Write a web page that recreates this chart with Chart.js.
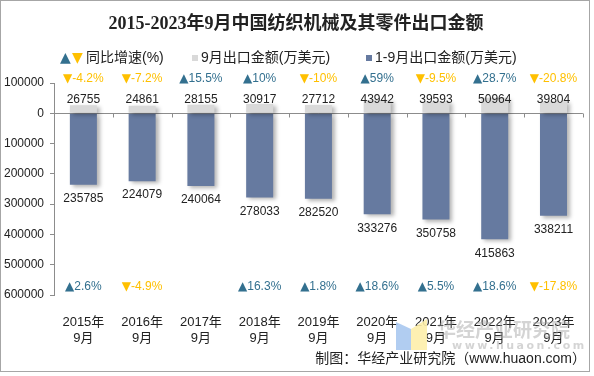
<!DOCTYPE html>
<html>
<head>
  <meta charset="utf-8">
  <title>2015-2023年9月中国纺织机械及其零件出口金额</title>
  <style>
    body { margin: 0; padding: 0; background: #fff; }
    .wrap { width: 594px; height: 376px; position: relative; }
  </style>
</head>
<body>
  <div class="wrap">
    <canvas id="chart" width="594" height="376"></canvas>
  </div>

  <script src="https://cdn.jsdelivr.net/npm/chart.js"></script>
  <script>
    // data
    const years = ['2015年', '2016年', '2017年', '2018年', '2019年', '2020年', '2021年', '2022年', '2023年'];
    const sepExport = [26755, 24861, 28155, 30917, 27712, 43942, 39593, 50964, 39804];
    const ytdExport = [235785, 224079, 240064, 278033, 282520, 333276, 350758, 415863, 338211];
    const sepGrowth = [-4.2, -7.2, 15.5, 10, -10, 59, -9.5, 28.7, -20.8];
    const ytdGrowth = [2.6, -4.9, null, 16.3, 1.8, 18.6, 5.5, 18.6, -17.8];

    const UP = '#33708f';
    const DOWN = '#ffc000';
    const NUM_FONT = '12px "Liberation Sans", Arial, sans-serif';
    const TRI_FONT = '12px "DejaVu Sans", sans-serif';
    const CJK = '"Liberation Sans", "Noto Sans CJK SC", sans-serif';

    // draws "▲15.5%" centred at cx
    function drawGrowth(ctx, v, cx, cy) {
      const tri = v >= 0 ? '▲' : '▼';
      const txt = String(v) + '%';
      ctx.font = TRI_FONT;
      const tw = ctx.measureText(tri).width;
      ctx.font = NUM_FONT;
      const nw = ctx.measureText(txt).width;
      const left = cx - (tw + nw) / 2;
      ctx.fillStyle = v >= 0 ? UP : DOWN;
      ctx.textAlign = 'left';
      ctx.font = TRI_FONT;
      ctx.fillText(tri, left, cy);
      ctx.font = NUM_FONT;
      ctx.fillText(txt, left + tw, cy);
      ctx.textAlign = 'center';
    }

    // bar shadow
    const shadow = {
      id: 'shadow',
      beforeDatasetsDraw(chart) {
        const ctx = chart.ctx;
        ctx.save();
        ctx.shadowColor = 'rgba(0,0,0,0.3)';
        ctx.shadowOffsetX = 3;
        ctx.shadowOffsetY = 2;
        ctx.shadowBlur = 4;
      },
      afterDatasetsDraw(chart) {
        chart.ctx.restore();
      }
    };

    // titles, legend, value labels, watermark
    const decor = {
      id: 'decor',
      afterDraw(chart) {
        const ctx = chart.ctx;
        const x = chart.scales.x;
        const y = chart.scales.y;
        const area = chart.chartArea;
        ctx.save();

        // outer frame
        ctx.strokeStyle = '#a6a6a6';
        ctx.lineWidth = 1;
        ctx.strokeRect(0.5, 0.5, 589, 371);

        // title
        ctx.fillStyle = '#222';
        ctx.font = 'bold 18px "Liberation Serif", "Noto Sans CJK SC", serif';
        ctx.textAlign = 'center';
        ctx.textBaseline = 'middle';
        ctx.fillText('2015-2023年9月中国纺织机械及其零件出口金额', 296, 24);

        // legend
        ctx.textAlign = 'left';
        ctx.font = '14px "DejaVu Sans", sans-serif';
        ctx.fillStyle = UP;
        ctx.fillText('▲', 60, 58);
        ctx.fillStyle = DOWN;
        ctx.fillText('▼', 72, 58);
        ctx.font = '14px ' + CJK;
        ctx.fillStyle = '#222';
        ctx.fillText('同比增速(%)', 86, 58);
        ctx.fillStyle = '#d9d9d9';
        ctx.fillRect(192, 55, 6, 6);
        ctx.fillStyle = '#222';
        ctx.fillText('9月出口金额(万美元)', 201, 58);
        ctx.fillStyle = '#667aa0';
        ctx.fillRect(366, 55, 6, 6);
        ctx.fillStyle = '#222';
        ctx.fillText('1-9月出口金额(万美元)', 375, 58);

        // ticks on the zero line at category boundaries
        const y0 = Math.round(y.getPixelForValue(0)) + 0.5;
        ctx.strokeStyle = '#8c8c8c';
        ctx.beginPath();
        for (let i = 0; i <= years.length; i++) {
          const bx = Math.round(area.left + (area.right - area.left) * i / years.length) + 0.5;
          ctx.moveTo(bx, y0);
          ctx.lineTo(bx, y0 + 4);
        }
        ctx.stroke();

        // value and growth labels
        ctx.textAlign = 'center';
        for (let i = 0; i < years.length; i++) {
          const cx = x.getPixelForValue(i);
          drawGrowth(ctx, sepGrowth[i], cx, 79);

          ctx.font = NUM_FONT;
          ctx.fillStyle = '#222';
          ctx.fillText(String(sepExport[i]), cx, 100);
          ctx.fillText(String(ytdExport[i]), cx, y.getPixelForValue(-ytdExport[i]) + 14);

          if (ytdGrowth[i] !== null) {
            drawGrowth(ctx, ytdGrowth[i], cx, 287);
          }
        }

        // watermark
        ctx.fillStyle = 'rgba(168,200,240,0.9)';
        ctx.beginPath();
        ctx.moveTo(396, 322); ctx.lineTo(411, 329); ctx.lineTo(411, 350); ctx.lineTo(396, 350);
        ctx.closePath(); ctx.fill();
        ctx.fillStyle = 'rgba(253,238,170,0.9)';
        ctx.beginPath();
        ctx.moveTo(411, 329); ctx.lineTo(427, 319); ctx.lineTo(427, 350); ctx.lineTo(411, 350);
        ctx.closePath(); ctx.fill();
        ctx.fillStyle = 'rgba(160,160,160,0.45)';
        ctx.font = 'bold 19px "Noto Sans CJK SC", sans-serif';
        ctx.textAlign = 'left';
        ctx.fillText('华经产业研究院', 437, 330);
        ctx.font = 'bold 11px "DejaVu Sans", sans-serif';
        ctx.letterSpacing = '2.5px';
        ctx.fillText('www.huaon.com', 452, 346);
        ctx.letterSpacing = '0px';

        // source
        ctx.fillStyle = '#222';
        ctx.font = '14px ' + CJK;
        ctx.textAlign = 'right';
        ctx.fillText('制图：华经产业研究院（www.huaon.com）', 586, 359);

        ctx.restore();
      }
    };

    new Chart(document.getElementById('chart'), {
      type: 'bar',
      data: {
        labels: years.map(yr => [yr, '9月']),
        datasets: [
          {
            label: '9月出口金额(万美元)',
            data: sepExport,
            backgroundColor: '#d9d9d9',
            barPercentage: 0.46,
            categoryPercentage: 1
          },
          {
            label: '1-9月出口金额(万美元)',
            data: ytdExport.map(v => -v),
            backgroundColor: '#667aa0',
            barPercentage: 0.46,
            categoryPercentage: 1
          }
        ]
      },
      options: {
        responsive: false,
        animation: false,
        layout: { padding: { top: 83, right: 10, bottom: 26, left: 0 } },
        plugins: {
          legend: { display: false },
          title: { display: false },
          tooltip: { enabled: false }
        },
        scales: {
          x: {
            stacked: true,
            grid: { display: false, drawTicks: false },
            border: { display: false },
            ticks: {
              color: '#222',
              padding: 19,
              font: { size: 13, family: CJK, lineHeight: 1.25 }
            },
            afterFit: s => { s.height = 55; }
          },
          y: {
            stacked: true,
            min: -600000,
            max: 100000,
            border: { display: true, color: '#8c8c8c' },
            grid: {
              drawOnChartArea: true,
              tickLength: 4,
              tickColor: '#8c8c8c',
              color: c => (c.tick && c.tick.value === 0 ? '#8c8c8c' : 'rgba(0,0,0,0)')
            },
            ticks: {
              stepSize: 100000,
              padding: 6,
              color: '#222',
              font: { size: 12, family: '"Liberation Sans", Arial, sans-serif' },
              callback: v => String(Math.abs(v))
            },
            afterFit: s => { s.width = 54; }
          }
        }
      },
      plugins: [shadow, decor]
    });
  </script>
</body>
</html>
